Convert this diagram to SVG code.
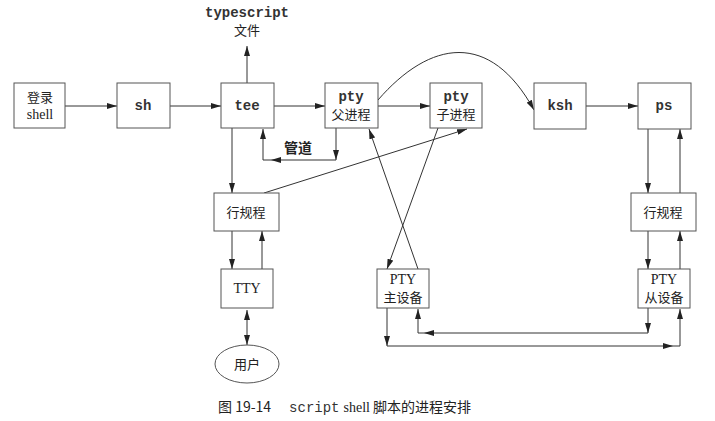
<svg xmlns="http://www.w3.org/2000/svg" width="715" height="421" viewBox="0 0 715 421">
<defs>
<marker id="a" viewBox="0 0 10 6" refX="10" refY="3" markerWidth="10" markerHeight="6" markerUnits="userSpaceOnUse" orient="auto"><path d="M0,0L10,3L0,6z" fill="#222"/></marker>
<marker id="s" viewBox="0 0 10 6" refX="0" refY="3" markerWidth="10" markerHeight="6" markerUnits="userSpaceOnUse" orient="auto"><path d="M10,0L0,3L10,6z" fill="#222"/></marker>
</defs>
<style>
rect,ellipse{fill:#fff;stroke:#555;stroke-width:1}
.c path,.c line{fill:none;stroke:#333;stroke-width:1;marker-end:url(#a)}
text{font-family:"Noto Sans CJK SC","Liberation Serif",serif;font-size:13px;fill:#222;text-anchor:middle}
.m{font-family:"Liberation Mono",monospace;font-weight:bold;font-size:14px;fill:#333}
.sr{font-family:"Liberation Serif","Noto Sans CJK SC",serif;font-size:14px}
</style>
<g class="c">
<line x1="65" y1="106" x2="117" y2="106"/>
<line x1="170" y1="106" x2="221" y2="106"/>
<line x1="274" y1="106" x2="325" y2="106"/>
<line x1="378" y1="106" x2="430" y2="106"/>
<line x1="586" y1="106" x2="638" y2="106"/>
<line x1="247" y1="83" x2="247" y2="46"/>
<line x1="336" y1="128" x2="336" y2="160"/>
<line x1="336" y1="160" x2="271" y2="160"/>
<path d="M271,160H263V129"/>
<line x1="232" y1="128" x2="232" y2="193"/>
<line x1="264" y1="193" x2="467" y2="129"/>
<line x1="232" y1="231" x2="232" y2="269"/>
<line x1="262" y1="269" x2="262" y2="231"/>
<line x1="247" y1="310" x2="247" y2="345" style="marker-start:url(#s)"/>
<line x1="418" y1="269" x2="369" y2="129"/>
<line x1="438" y1="128" x2="387" y2="269"/>
<path d="M378,100C430,40 490,30 534,110"/>
<line x1="648" y1="129" x2="648" y2="193"/>
<line x1="680" y1="231" x2="680" y2="129"/>
<line x1="648" y1="231" x2="648" y2="269"/>
<line x1="680" y1="269" x2="680" y2="231"/>
<line x1="648" y1="308" x2="648" y2="333"/>
<line x1="648" y1="333" x2="424" y2="333"/>
<path d="M424,333H418V309"/>
<line x1="387" y1="308" x2="387" y2="346"/>
<line x1="387" y1="346" x2="673" y2="346"/>
<path d="M673,346H680V309"/>
</g>
<text class="m" x="247" y="17">typescript</text>
<text x="247" y="35">文件</text>
<text x="298" y="153" style="font-weight:bold;font-size:14px">管道</text>
<g id="login"><rect x="14" y="83" width="51" height="45"/><text x="40" y="102">登录</text><text class="sr" x="40" y="119">shell</text></g>
<g id="sh"><rect x="117" y="83" width="53" height="45"/><text class="m" x="143" y="110">sh</text></g>
<g id="tee"><rect x="221" y="83" width="53" height="45"/><text class="m" x="247" y="110">tee</text></g>
<g id="ptyp"><rect x="325" y="83" width="53" height="45"/><text class="m" x="351" y="101">pty</text><text x="351" y="119">父进程</text></g>
<g id="ptyc"><rect x="430" y="83" width="52" height="45"/><text class="m" x="456" y="101">pty</text><text x="456" y="119">子进程</text></g>
<g id="ksh"><rect x="534" y="83" width="52" height="46"/><text class="m" x="560" y="110">ksh</text></g>
<g id="ps"><rect x="638" y="83" width="53" height="46"/><text class="m" x="664" y="110">ps</text></g>
<g id="ld1"><rect x="214" y="193" width="65" height="38"/><text x="246" y="217">行规程</text></g>
<g id="ld2"><rect x="631" y="193" width="65" height="38"/><text x="663" y="217">行规程</text></g>
<g id="tty"><rect x="221" y="269" width="52" height="39"/><text class="sr" x="247" y="293">TTY</text></g>
<g id="ptym"><rect x="377" y="269" width="52" height="39"/><text class="sr" x="403" y="284">PTY</text><text x="403" y="302">主设备</text></g>
<g id="ptys"><rect x="638" y="269" width="52" height="39"/><text class="sr" x="664" y="284">PTY</text><text x="664" y="302">从设备</text></g>
<g id="user"><ellipse cx="247" cy="364" rx="32" ry="19"/><text x="247" y="369">用户</text></g>
<text x="218" y="412" style="text-anchor:start;font-size:14px">图 19-14<tspan class="m" dx="18" style="font-weight:normal">script</tspan><tspan class="sr" dx="4">shell</tspan> 脚本的进程安排</text>
</svg>
